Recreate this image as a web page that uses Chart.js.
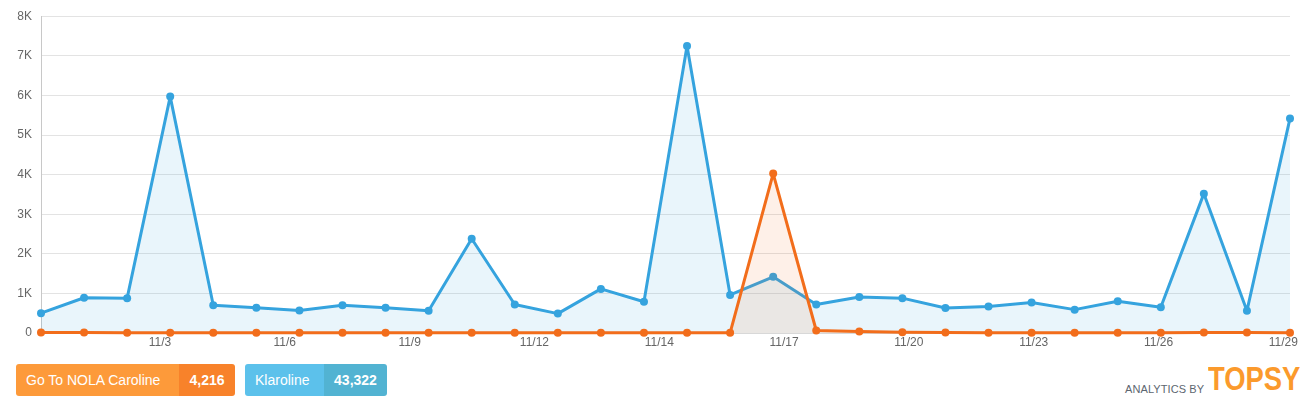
<!DOCTYPE html>
<html><head><meta charset="utf-8">
<script src="https://cdn.jsdelivr.net/npm/chart.js@4/dist/chart.umd.min.js"></script>
<style>
html,body{margin:0;padding:0;background:#fff;width:1305px;height:399px;overflow:hidden;font-family:"Liberation Sans",Arial,sans-serif;}
#wrap{position:absolute;left:0;top:0;width:1305px;height:356px;}
.btn{position:absolute;top:364px;height:32px;border-radius:3px;overflow:hidden;display:flex;color:#fff;font-size:14px;line-height:32px;}
.btn .l{padding-left:10px;}
.btn .r{font-weight:bold;text-align:center;}
#b1{left:16px;width:219px;}
#b1 .l{background:#fd9a3a;width:153px;}
#b1 .r{background:#f8822a;width:56px;}
#b2{left:245px;width:142px;}
#b2 .l{background:#5cc1eb;width:69px;}
#b2 .r{background:#52b3d2;width:63px;}
#brand{position:absolute;left:1125px;top:362px;height:34px;white-space:nowrap;}
#brand .a{position:absolute;left:0;top:21px;font-size:11px;color:#5d6670;letter-spacing:0.1px;}
#brand .t{position:absolute;left:83px;top:0px;font-size:33px;font-weight:bold;color:#fb9a2c;line-height:34px;transform:scaleX(0.83);transform-origin:0 0;}
</style></head>
<body>
<div id="wrap"><canvas id="c" width="1305" height="356"></canvas></div>
<div class="btn" id="b1"><div class="l">Go To NOLA Caroline</div><div class="r">4,216</div></div>
<div class="btn" id="b2"><div class="l">Klaroline</div><div class="r">43,322</div></div>
<div id="brand"><span class="a">ANALYTICS BY</span><span class="t">TOPSY</span></div>
<script>
const seriesNames = ["Go To NOLA Caroline", "Klaroline"];
const klaroline = [500,890,880,5970,700,640,570,700,640,560,2380,720,490,1114,790,7250,960,1418,720,910,880,630,670,770,590,800,650,3519,560,5418];
const nola = [12,10,5,5,5,5,5,5,5,5,5,5,5,5,8,5,5,4025,63,38,20,10,8,8,8,5,5,10,10,5];
const xTickLabels = ["11/3","11/6","11/9","11/12","11/14","11/17","11/20","11/23","11/26","11/29"];
const yTickLabels = ["0","1K","2K","3K","4K","5K","6K","7K","8K"];

const toPts = arr => arr.map((v,i)=>({x:i,y:v}));
const firstTick = 2.763, tickStep = 2.898;

new Chart(document.getElementById('c'), {
  type: 'line',
  data: {
    datasets: [
      {label: seriesNames[0], data: toPts(nola), borderColor:'#f26d1b', backgroundColor:'rgba(242,109,27,0.1)',
       fill:'origin', borderWidth:3, borderJoinStyle:'round', pointRadius:4, pointBackgroundColor:'#f26d1b', pointBorderWidth:0, tension:0, order:1, clip:false},
      {label: seriesNames[1], data: toPts(klaroline), borderColor:'#35a3de', backgroundColor:'rgba(53,163,222,0.11)',
       fill:'origin', borderWidth:3, borderJoinStyle:'round', pointRadius:4, pointBackgroundColor:'#35a3de', pointBorderWidth:0, tension:0, order:2, clip:false}
    ]
  },
  options: {
    responsive:false, animation:false,
    layout:{padding:{top:16,right:15,left:0,bottom:0}},
    plugins:{legend:{display:false}, tooltip:{enabled:false}},
    scales:{
      x:{type:'linear', min:0, max:29,
        afterBuildTicks: s => { s.ticks = xTickLabels.map((l,k)=>({value: firstTick + k*tickStep})); },
        afterFit: s => { s.height = 23; },
        ticks:{autoSkip:false, maxRotation:0, padding:2, color:'#666', font:{family:'"Liberation Sans", Arial', size:12},
          callback:(v,i)=>xTickLabels[i]},
        grid:{display:false, drawTicks:false},
        border:{display:true, color:'#d8d8d8'}
      },
      y:{min:0, max:8000,
        afterBuildTicks: s => { s.ticks = yTickLabels.map((l,k)=>({value:k*1000})); },
        afterFit: s => { s.width = 41; },
        ticks:{padding:9, color:'#666', font:{family:'"Liberation Sans", Arial', size:12},
          callback:(v,i)=>yTickLabels[i]},
        grid:{color:'#e3e3e3', drawTicks:false, lineWidth:1},
        border:{display:true, color:'#c8c8c8'}
      }
    }
  }
});
</script>
</body></html>
